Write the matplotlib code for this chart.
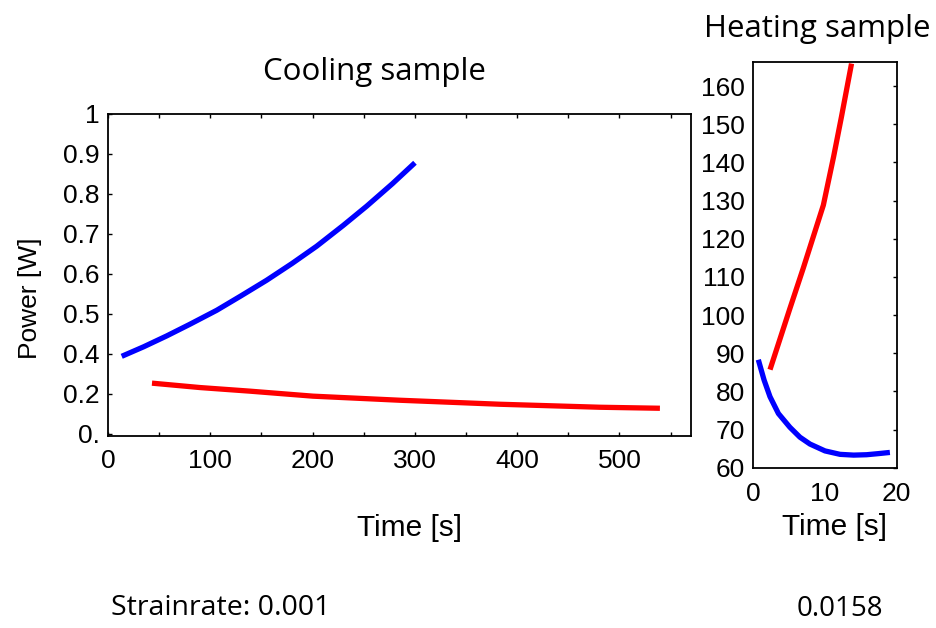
import matplotlib
matplotlib.use("Agg")
import matplotlib.pyplot as plt
from matplotlib.ticker import MultipleLocator, FixedLocator

# Cooling sample (strain rate 0.001)
cool_time_blue = [13.4, 35.0, 57.4, 80.0, 106.3, 130.0, 155.1, 180.0, 204.0, 230.0, 252.9, 278.0, 300.1]
cool_power_blue = [0.394, 0.418, 0.445, 0.474, 0.509, 0.545, 0.584, 0.626, 0.669, 0.721, 0.769, 0.825, 0.8775]
cool_time_red = [43.0, 90.0, 138.8, 200.4, 285.4, 383.2, 481.0, 539.6]
cool_power_red = [0.327, 0.316, 0.307, 0.2945, 0.2843, 0.2743, 0.2668, 0.2643]

cool_yticks = [0.2, 0.3, 0.4, 0.5, 0.6, 0.7, 0.8, 0.9, 1.0]
cool_yticklabels = ["0.", "0.2", "0.4", "0.5", "0.6", "0.7", "0.8", "0.9", "1"]
cool_xticks = [0, 100, 200, 300, 400, 500]

# Heating sample (strain rate 0.0158)
heat_time_red = [2.33, 5.1, 6.97, 9.77, 11.2, 12.3, 13.7]
heat_power_red = [85.7, 101.7, 112.3, 128.8, 141.5, 152.0, 165.9]
heat_time_blue = [0.7, 1.5, 2.33, 3.5, 5.1, 6.5, 7.9, 10.0, 12.1, 14.0, 15.8, 17.5, 19.05]
heat_power_blue = [88.3, 83.0, 78.6, 74.2, 70.6, 68.0, 66.2, 64.4, 63.5, 63.3, 63.4, 63.7, 64.0]

heat_yticks = [60, 70, 80, 90, 100, 110, 120, 130, 140, 150, 160]
heat_xticks = [0, 10, 20]

BLUE = "#0000ff"
RED = "#ff0000"
TICK_FONT = "Liberation Sans"
TITLE_FONT = "Open Sans"

W, H = 937, 628
fig = plt.figure(figsize=(W / 100, H / 100), dpi=100)


def frac(x0, y0, x1, y1):
    return [x0 / W, 1 - y1 / H, (x1 - x0) / W, (y1 - y0) / H]


ax1 = fig.add_axes(frac(108, 113.7, 691, 436))
ax2 = fig.add_axes(frac(753.3, 61.7, 896.7, 467.7))

lw = 3.8
style = dict(lw=lw, solid_capstyle="butt", solid_joinstyle="round")
ax1.plot(cool_time_blue, cool_power_blue, color=BLUE, **style)
ax1.plot(cool_time_red, cool_power_red, color=RED, **style)
ax1.set_xlim(0, 570)
ax1.set_ylim(0.195, 1.0)
ax1.xaxis.set_major_locator(FixedLocator(cool_xticks))
ax1.xaxis.set_minor_locator(MultipleLocator(50))
ax1.set_yticks(cool_yticks)
ax1.set_yticklabels(cool_yticklabels)
ax1.tick_params(axis="both", which="both", direction="in", length=3, width=1,
                top=True, right=False, labelsize=19)
ax1.tick_params(axis="x", pad=9)
ax1.tick_params(axis="y", pad=6)

ax2.plot(heat_time_red, heat_power_red, color=RED, **style)
ax2.plot(heat_time_blue, heat_power_blue, color=BLUE, **style)
ax2.set_xlim(0, 20)
ax2.set_ylim(60, 166.4)
ax2.set_xticks(heat_xticks)
ax2.set_yticks(heat_yticks)
ax2.tick_params(axis="y", which="both", direction="in", length=3, width=1,
                left=False, right=True, labelleft=True, labelsize=19, pad=6)
ax2.tick_params(axis="x", length=0, labelsize=19, pad=10)

for ax in (ax1, ax2):
    for sp in ax.spines.values():
        sp.set_linewidth(1.3)
    for lab in ax.get_xticklabels() + ax.get_yticklabels():
        lab.set_family(TICK_FONT)

ax1.set_title("Cooling sample", family=TITLE_FONT, fontsize=22.5,
              x=(374.5 - 108) / 583, y=1.13, va="center", pad=0)
ax2.set_title("Heating sample", family=TITLE_FONT, fontsize=22.5, x=0.444, y=1.08,
              va="center", pad=0)

ax1.set_ylabel("Power [W]", family=TICK_FONT, fontsize=19)
ax1.yaxis.set_label_coords((30 - 108) / 583, (436 - 298) / 322.3)
ax1.yaxis.label.set_va("center")
ax1.set_xlabel("Time [s]", family=TICK_FONT, fontsize=21.5)
ax1.xaxis.set_label_coords((410 - 108) / 583, (436 - 528) / 322.3)
ax1.xaxis.label.set_va("center")
ax2.set_xlabel("Time [s]", family=TICK_FONT, fontsize=21.5)
ax2.xaxis.set_label_coords((834 - 753.3) / 143.4, (467.7 - 527) / 406)
ax2.xaxis.label.set_va("center")

fig.text(221 / W, 1 - 608 / H, "Strainrate: 0.001", family=TITLE_FONT, fontsize=20.5,
         ha="center", va="center")
fig.text(840 / W, 1 - 609 / H, "0.0158", family=TITLE_FONT, fontsize=20,
         ha="center", va="center")

fig.savefig("out.png", dpi=100)
